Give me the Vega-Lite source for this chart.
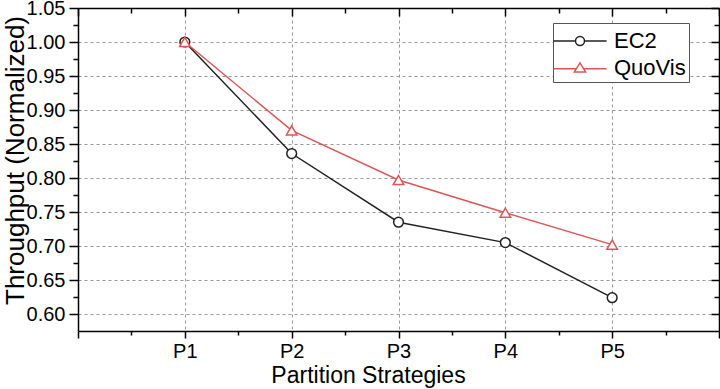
{
  "$schema": "https://vega.github.io/schema/vega-lite/v6.json",
  "width": 641,
  "height": 323,
  "autosize": "none",
  "padding": {"left": 78, "top": 8, "right": 1, "bottom": 58},
  "config": {
    "view": {"stroke": null},
    "font": "Liberation Sans",
    "axis": {"labelFont": "Liberation Sans", "titleFont": "Liberation Sans", "labelColor": "#000", "titleColor": "#000", "domainColor": "#000", "tickColor": "#000", "domainWidth": 1.5, "tickWidth": 1.5, "titleFontWeight": "normal"},
    "legend": {"labelFont": "Liberation Sans"}
  },
  "data": {
    "values": [
      {"series": "EC2", "pos": 1, "value": 1.0},
      {"series": "EC2", "pos": 2, "value": 0.836},
      {"series": "EC2", "pos": 3, "value": 0.735},
      {"series": "EC2", "pos": 4, "value": 0.705},
      {"series": "EC2", "pos": 5, "value": 0.624},
      {"series": "QuoVis", "pos": 1, "value": 1.0},
      {"series": "QuoVis", "pos": 2, "value": 0.870},
      {"series": "QuoVis", "pos": 3, "value": 0.797},
      {"series": "QuoVis", "pos": 4, "value": 0.749},
      {"series": "QuoVis", "pos": 5, "value": 0.702}
    ]
  },
  "layer": [
    {
      "encoding": {
        "x": {
          "field": "pos", "type": "quantitative",
          "scale": {"domain": [0, 6], "nice": false, "zero": false},
          "axis": {
            "orient": "bottom",
            "values": [0, 0.5, 1, 1.5, 2, 2.5, 3, 3.5, 4, 4.5, 5, 5.5, 6],
            "labelExpr": "(datum.value >= 1 && datum.value <= 5 && datum.value % 1 === 0) ? 'P' + datum.value : ''",
            "labelFontSize": 20,
            "labelPadding": 3,
            "labelFlush": false,
            "labelOverlap": false,
            "tickSize": {"condition": {"test": "datum.value % 1 !== 0", "value": 4}, "value": 7},
            "grid": true,
            "gridDash": [3, 3],
            "gridColor": "#999",
            "gridWidth": 1,
            "gridOpacity": {"condition": {"test": "datum.value % 1 !== 0 || datum.value == 0 || datum.value == 6", "value": 0}, "value": 1},
            "title": "Partition Strategies",
            "titleFontSize": 23,
            "titleX": 290,
            "titleY": 51,
            "titleAlign": "center",
            "titleBaseline": "alphabetic"
          }
        },
        "y": {
          "field": "value", "type": "quantitative",
          "scale": {"domain": [0.575, 1.05], "nice": false, "zero": false},
          "axis": {
            "orient": "left",
            "values": [0.6, 0.625, 0.65, 0.675, 0.7, 0.725, 0.75, 0.775, 0.8, 0.825, 0.85, 0.875, 0.9, 0.925, 0.95, 0.975, 1.0, 1.025, 1.05],
            "labelExpr": "abs(datum.value * 20 - round(datum.value * 20)) > 0.01 ? '' : format(datum.value, '.2f')",
            "labelFontSize": 20,
            "labelPadding": 4,
            "labelFlush": false,
            "labelOverlap": false,
            "tickSize": {"condition": {"test": "abs(datum.value * 20 - round(datum.value * 20)) > 0.01", "value": 5}, "value": 9},
            "grid": true,
            "gridDash": [3, 3],
            "gridColor": "#999",
            "gridWidth": 1,
            "gridOpacity": {"condition": {"test": "abs(datum.value * 20 - round(datum.value * 20)) > 0.01", "value": 0}, "value": 1},
            "title": "Throughput (Normalized)",
            "titleFontSize": 26,
            "titleX": -63,
            "titleY": 152,
            "titleAlign": "center",
            "titleBaseline": "middle",
            "titleAngle": -90
          }
        }
      },
      "layer": [
        {
          "transform": [{"filter": "datum.series === 'EC2'"}],
          "mark": {"type": "line", "strokeWidth": 1.5, "stroke": "#222222"}
        },
        {
          "transform": [{"filter": "datum.series === 'QuoVis'"}],
          "mark": {"type": "line", "strokeWidth": 1.5, "stroke": "#e05555"}
        },
        {
          "transform": [{"filter": "datum.series === 'EC2'"}],
          "mark": {"type": "point", "shape": "circle", "size": 95, "filled": false, "fill": "white", "fillOpacity": 1, "stroke": "#222222", "strokeWidth": 1.5, "opacity": 1}
        },
        {
          "transform": [{"filter": "datum.series === 'QuoVis'"}],
          "mark": {"type": "point", "shape": "triangle-up", "size": 110, "filled": false, "fill": "white", "fillOpacity": 1, "stroke": "#e05555", "strokeWidth": 1.5, "opacity": 1}
        },
        {
          "mark": {"type": "point", "filled": false, "size": 784, "strokeWidth": 1.5, "opacity": 0},
          "encoding": {
            "stroke": {"field": "series", "type": "nominal", "scale": {"domain": ["EC2", "QuoVis"], "range": ["#222222", "#e05555"]},
              "legend": {
                "orient": "none", "legendX": 475, "legendY": 15, "title": null,
                "padding": 3, "strokeColor": "#555", "fillColor": "white",
                "labelFontSize": 22, "labelColor": "#000", "labelOffset": 19,
                "symbolSize": 784, "symbolOffset": 9, "symbolStrokeWidth": 1.5, "symbolOpacity": 1,
                "rowPadding": 1
              }
            },
            "shape": {"field": "series", "type": "nominal", "scale": {"domain": ["EC2", "QuoVis"], "range": [
              "M-1.9,0L-0.32,0M0.32,0L1.9,0M0.32,0A0.32,0.32 0 1 1 -0.32,0A0.32,0.32 0 1 1 0.32,0",
              "M-1.9,0.05L-0.25,0.05M0.25,0.05L1.9,0.05M-0.4,0.28L0,-0.36L0.4,0.28Z"
            ]},
              "legend": {
                "orient": "none", "legendX": 475, "legendY": 15, "title": null,
                "padding": 3, "strokeColor": "#555", "fillColor": "white",
                "labelFontSize": 22, "labelColor": "#000", "labelOffset": 19,
                "symbolSize": 784, "symbolOffset": 9, "symbolStrokeWidth": 1.5, "symbolOpacity": 1,
                "rowPadding": 1
              }
            }
          }
        }
      ]
    },
    {
      "mark": {"type": "point", "opacity": 0},
      "encoding": {
        "x": {
          "field": "pos", "type": "quantitative",
          "scale": {"domain": [0, 6], "nice": false, "zero": false},
          "axis": {
            "orient": "top",
            "values": [0, 0.5, 1, 1.5, 2, 2.5, 3, 3.5, 4, 4.5, 5, 5.5, 6],
            "labels": false,
            "grid": false,
            "title": null,
            "tickSize": {"condition": {"test": "datum.value % 1 !== 0", "value": -5}, "value": -8}
          }
        },
        "y": {
          "field": "value", "type": "quantitative",
          "scale": {"domain": [0.575, 1.05], "nice": false, "zero": false},
          "axis": {
            "orient": "right",
            "values": [0.6, 0.625, 0.65, 0.675, 0.7, 0.725, 0.75, 0.775, 0.8, 0.825, 0.85, 0.875, 0.9, 0.925, 0.95, 0.975, 1.0, 1.025, 1.05],
            "labels": false,
            "grid": false,
            "title": null,
            "tickSize": {"condition": {"test": "abs(datum.value * 20 - round(datum.value * 20)) > 0.01", "value": -5}, "value": -8}
          }
        }
      }
    }
  ],
  "resolve": {"scale": {"x": "independent", "y": "independent"}}
}
